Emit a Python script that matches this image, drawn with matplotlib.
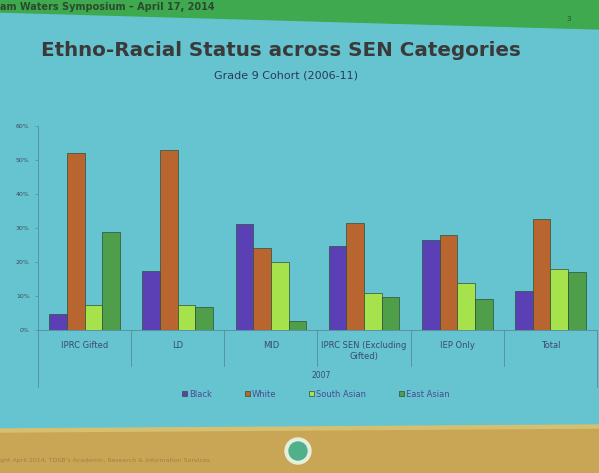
import numpy as np
import matplotlib
matplotlib.use("Agg")
import matplotlib.pyplot as plt
from matplotlib.patches import Polygon, Circle

categories = ["IPRC Gifted", "LD", "MID", "IPRC SEN (Excluding\nGifted)", "IEP Only", "Total"]
groups = ["Black", "White", "South Asian", "East Asian"]
black = [4.7, 17.3, 31.2, 24.7, 26.5, 11.5]
white = [52.0, 52.9, 24.1, 31.5, 28.0, 32.6]
south_asian = [7.4, 7.4, 20.0, 10.9, 13.8, 18.0]
east_asian = [28.8, 6.8, 2.6, 9.7, 9.1, 17.1]
yticks = [0, 10, 20, 30, 40, 50, 60]
colors = ["#5a3fb5", "#b8652f", "#a6e24c", "#4f9e4a"]

bg = "#66c4d0"
fig = plt.figure(figsize=(5.99, 4.73), dpi=100, facecolor=bg)

# slide decoration (bands, title, footer)
deco = fig.add_axes([0, 0, 1, 1], zorder=-1)
deco.set_xlim(0, 599)
deco.set_ylim(473, 0)
deco.axis("off")
deco.add_patch(Polygon([[0, 0], [599, 0], [599, 29], [0, 12]], color="#3fa94f"))
deco.add_patch(Polygon([[0, 432], [599, 428], [599, 473], [0, 473]], color="#c9a656"))
deco.add_patch(Polygon([[0, 429], [599, 425], [599, 428], [0, 432]], color="#d6c070"))
deco.text(0, 7, "am Waters Symposium \u2013 April 17, 2014", fontsize=7, fontweight="bold",
          color="#2c4a2c", va="center", ha="left")
deco.text(566, 19, "3", fontsize=5, color="#2c4a2c", va="center")
deco.text(0, 460, "ght April 2014, TDSB's Academic, Research & Information Services",
          fontsize=4.5, color="#a08040", va="center")
deco.add_patch(Circle((298, 451), 13, color="#e6efdc"))
deco.add_patch(Circle((298, 451), 9, color="#4fb08a"))
deco.text(281, 50, "Ethno-Racial Status across SEN Categories", fontsize=14.3,
          fontweight="bold", color="#3a3a3a", ha="center", va="center")
deco.text(286, 75, "Grade 9 Cohort (2006-11)", fontsize=8, color="#2a3a5a",
          ha="center", va="center")

ax = fig.add_axes([38 / 599, 1 - 330 / 473, 559 / 599, 204 / 473])
ax.set_facecolor(bg)
x = np.arange(len(categories))
w = 0.19
for i, (vals, name) in enumerate(zip([black, white, south_asian, east_asian], groups)):
    ax.bar(x + (i - 1.5) * w, vals, w, color=colors[i], edgecolor="#2f4f3a",
           linewidth=0.5, label=name)

ax.set_xlim(-0.5, len(categories) - 0.5)
ax.set_ylim(0, 60)
ax.set_yticks(yticks)
ax.set_yticklabels([f"{t}%" for t in yticks], fontsize=4.5, color="#404a5a")
ax.set_xticks(x)
ax.set_xticklabels(categories, fontsize=6, color="#3a4a6a", linespacing=1.2)
ax.tick_params(axis="y", length=2, width=0.5, color="#5a8a9a", pad=4)
ax.tick_params(axis="x", length=0, pad=8)
for s in ["top", "right"]:
    ax.spines[s].set_visible(False)
for s in ["left", "bottom"]:
    ax.spines[s].set_color("#5a8a9a")
    ax.spines[s].set_linewidth(0.6)

# category separators below axis
for b in np.arange(0.5, len(categories) - 1, 1):
    ax.plot([b, b], [0, -10.6], color="#5a8a9a", lw=0.6, clip_on=False)
for b in [-0.5, len(categories) - 0.5]:
    ax.plot([b, b], [0, -16.8], color="#5a8a9a", lw=0.6, clip_on=False)
ax.text(2.54, -13.3, "2007", fontsize=5.5, color="#3a4a6a", ha="center", va="center")

leg = ax.legend(loc="center", bbox_to_anchor=(0.497, -0.314), ncol=4, frameon=False,
                fontsize=6, handlelength=0.6, handleheight=0.6, columnspacing=4,
                handletextpad=0.2)
for t in leg.get_texts():
    t.set_color("#4a4a90")

fig.savefig("out.png", dpi=100, facecolor=bg)
